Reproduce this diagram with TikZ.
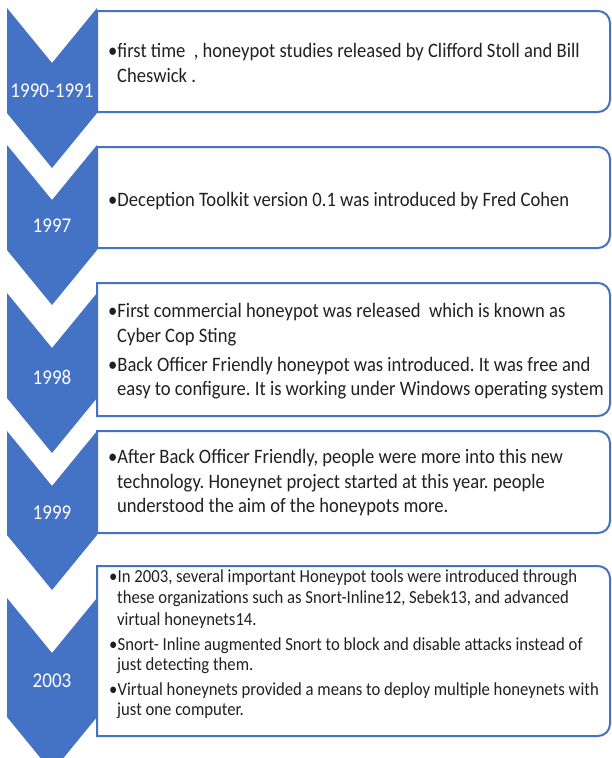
\documentclass[tikz,border=0pt]{standalone}
\usepackage{fontspec}
\setmainfont{Carlito}[FakeStretch=0.907]
\frenchspacing
\definecolor{chevblue}{HTML}{4472C4}
\definecolor{txtgray}{HTML}{202020}
\tikzset{
  chevron/.style={fill=chevblue, draw=none},
  boxline/.style={draw=chevblue, line width=2pt},
  yearlabel/.style={text=white, font=\fontsize{21}{25}\selectfont, anchor=base, inner sep=0pt},
  bodyline/.style={text=txtgray, font=\fontsize{20.5}{25}\selectfont, anchor=base west, inner sep=0pt},
  bodysmall/.style={text=txtgray, font=\fontsize{18.4}{22}\selectfont, anchor=base west, inner sep=0pt},
}
\newcommand{\tlchev}[2]{\fill[chevron] (7,-#1) -- (52,{-#1-55}) -- (97,-#1) -- (97,-#2) -- (52,{-#2-55}) -- (7,-#2) -- cycle;}
\newcommand{\tlbox}[3]{%
  \coordinate (#1nw) at (97,-#2);
  \coordinate (#1se) at (610,-#3);
  \draw[boxline] (#1nw) -- (598,-#2) arc[start angle=90,end angle=0,radius=12pt]
    -- (610,{-#3+12}) arc[start angle=0,end angle=-90,radius=12pt] -- (97,-#3) -- cycle;}
\newcommand{\bulnarrow}{\makebox[8.5pt][l]{•}}
\begin{document}
\begin{tikzpicture}[x=1pt,y=1pt]
\useasboundingbox (0,0) rectangle (612,-758);
\begin{scope}
\clip (0,0) rectangle (612,-758);
% chevrons
\tlchev{8}{113}
\tlchev{145}{250}
\tlchev{293}{398}
\tlchev{431}{535}
\tlchev{598}{717}
% boxes
\tlbox{b1}{11}{112}
\tlbox{b2}{147}{248}
\tlbox{b3}{283}{416}
\tlbox{b4}{431}{533}
\tlbox{b5}{566}{736}
\end{scope}
% year labels
\node[yearlabel] (y1) at (52,-97) {1990-1991};
\node[yearlabel] (y2) at (52,-232) {1997};
\node[yearlabel] (y3) at (52,-384) {1998};
\node[yearlabel] (y4) at (52,-519) {1999};
\node[yearlabel] (y5) at (52,-687) {2003};
% box 1
\node[bodyline] (t1a) at (108,-57) {•first time\ \ , honeypot studies released by Clifford Stoll and Bill};
\node[bodyline] (t1b) at (117,-82) {Cheswick .};
% box 2
\node[bodyline] (t2a) at (108,-206) {•Deception Toolkit version 0.1 was introduced by Fred Cohen};
% box 3
\node[bodyline] (t3a) at (108,-317) {•First commercial honeypot was released\ \ which is known as};
\node[bodyline] (t3b) at (117,-342) {Cyber Cop Sting};
\node[bodyline] (t3c) at (108,-371) {•Back Officer Friendly honeypot was introduced. It was free and};
\node[bodyline] (t3d) at (117,-395) {easy to configure. It is working under Windows operating system};
% box 4
\node[bodyline] (t4a) at (108,-463) {•After Back Officer Friendly, people were more into this new};
\node[bodyline] (t4b) at (117,-488) {technology. Honeynet project started at this year. people};
\node[bodyline] (t4c) at (117,-512) {understood the aim of the honeypots more.};
% box 5
\node[bodysmall] (t5a) at (109,-582) {\bulnarrow In 2003, several important Honeypot tools were introduced through};
\node[bodysmall] (t5b) at (117,-603) {these organizations such as Snort-Inline12, Sebek13, and advanced};
\node[bodysmall] (t5c) at (117,-625) {virtual honeynets14.};
\node[bodysmall] (t5d) at (109,-650) {\bulnarrow Snort- Inline augmented Snort to block and disable attacks instead of};
\node[bodysmall] (t5e) at (117,-670) {just detecting them.};
\node[bodysmall] (t5f) at (109,-695) {\bulnarrow Virtual honeynets provided a means to deploy multiple honeynets with};
\node[bodysmall] (t5g) at (117,-715) {just one computer.};
\end{tikzpicture}
\end{document}
